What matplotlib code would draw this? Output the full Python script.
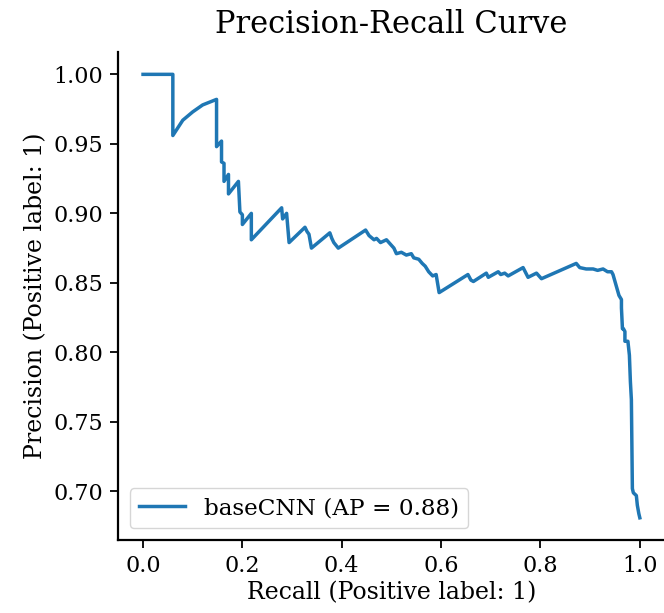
import matplotlib
matplotlib.use("Agg")
import matplotlib.pyplot as plt

# recall / precision points
recall = [0.0, 0.060, 0.060, 0.080, 0.100, 0.120, 0.148, 0.148, 0.158, 0.158, 0.163, 0.163,
          0.172, 0.172, 0.192, 0.195, 0.200, 0.200, 0.218, 0.218, 0.279, 0.281, 0.289, 0.294,
          0.326, 0.330, 0.334, 0.339, 0.376, 0.380, 0.384, 0.393, 0.448, 0.455, 0.465, 0.470,
          0.478, 0.490, 0.495, 0.505, 0.510, 0.520, 0.530, 0.540, 0.545, 0.555, 0.562, 0.568,
          0.575, 0.583, 0.590, 0.596, 0.654, 0.660, 0.665, 0.691, 0.695, 0.715, 0.720, 0.728,
          0.735, 0.765, 0.775, 0.792, 0.802, 0.872, 0.879, 0.892, 0.906, 0.915, 0.926, 0.935,
          0.943, 0.946, 0.950, 0.954, 0.958, 0.963, 0.963, 0.965, 0.967, 0.970, 0.970, 0.976,
          0.979, 0.981, 0.983, 0.985, 0.987, 0.993, 0.995, 0.998, 1.0]
precision = [1.0, 1.0, 0.956, 0.967, 0.973, 0.978, 0.982, 0.948, 0.952, 0.937, 0.936, 0.923,
             0.928, 0.914, 0.923, 0.901, 0.899, 0.892, 0.900, 0.881, 0.904, 0.896, 0.900, 0.879,
             0.890, 0.887, 0.885, 0.875, 0.886, 0.882, 0.879, 0.875, 0.888, 0.884, 0.881, 0.882,
             0.879, 0.881, 0.879, 0.875, 0.871, 0.872, 0.870, 0.871, 0.868, 0.867, 0.864, 0.862,
             0.858, 0.855, 0.856, 0.843, 0.856, 0.852, 0.851, 0.857, 0.854, 0.858, 0.856, 0.857,
             0.855, 0.861, 0.854, 0.857, 0.853, 0.864, 0.861, 0.860, 0.860, 0.859, 0.860, 0.858,
             0.858, 0.856, 0.851, 0.846, 0.841, 0.838, 0.832, 0.817, 0.817, 0.815, 0.808, 0.808,
             0.798, 0.779, 0.766, 0.702, 0.699, 0.697, 0.690, 0.684, 0.681]
label = "baseCNN (AP = 0.88)"

plt.rcParams["font.family"] = "DejaVu Serif"

fig = plt.figure(figsize=(6.64, 6.13), dpi=100)
ax = fig.add_axes([0.178, 0.119, 0.823, 0.796])
ax.plot(recall, precision, color="#1f77b4", linewidth=2.5, label=label)

ax.set_xlim(-0.05, 1.05)
ax.set_ylim(0.665, 1.016)
ax.set_xticks([0.0, 0.2, 0.4, 0.6, 0.8, 1.0])
ax.set_yticks([0.70, 0.75, 0.80, 0.85, 0.90, 0.95, 1.00])
ax.set_yticklabels(["0.70", "0.75", "0.80", "0.85", "0.90", "0.95", "1.00"])
ax.tick_params(labelsize=16, length=6, width=1.3, pad=5)
for s in ["top", "right"]:
    ax.spines[s].set_visible(False)
for s in ["left", "bottom"]:
    ax.spines[s].set_linewidth(1.6)

ax.set_xlabel("Recall (Positive label: 1)", fontsize=17, labelpad=3)
ax.set_ylabel("Precision (Positive label: 1)", fontsize=17, labelpad=4)
ax.set_title("Precision-Recall Curve", fontsize=22, pad=14)
ax.legend(loc="lower left", fontsize=16.7)

fig.savefig("out.png", dpi=100)
